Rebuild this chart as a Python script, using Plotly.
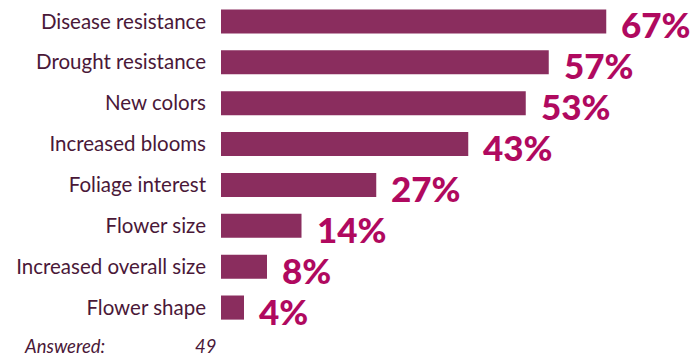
import plotly.graph_objects as go

# Survey: desired plant traits (share of respondents)
categories = [
    "Disease resistance",
    "Drought resistance",
    "New colors",
    "Increased blooms",
    "Foliage interest",
    "Flower size",
    "Increased overall size",
    "Flower shape",
]
percent = [67, 57, 53, 43, 27, 14, 8, 4]
answered = 49

bar_color = "#8a2d5e"
value_color = "#b0095f"
label_color = "#4a1838"

fig = go.Figure(
    go.Bar(
        x=percent,
        y=categories,
        orientation="h",
        marker=dict(color=bar_color, line=dict(width=0)),
        hoverinfo="skip",
    )
)

# heavy value labels just past the end of each bar
for cat, val in zip(categories, percent):
    fig.add_annotation(
        x=val, y=cat, xref="x", yref="y",
        text=f"{val}%",
        showarrow=False, xanchor="left", yanchor="middle",
        xshift=13, yshift=-3,
        font=dict(family="Lato", size=35, color=value_color, weight=900),
    )

# respondent count footer
fig.add_annotation(
    x=-0.43, y=-0.084, xref="paper", yref="paper",
    text="<i>Answered:</i>", showarrow=False,
    xanchor="left", yanchor="bottom", yshift=-3, borderpad=0,
    font=dict(family="Lato", size=18.5, color=label_color),
)
fig.add_annotation(
    x=-0.0087, y=-0.084, xref="paper", yref="paper",
    text=f"<i>{answered}</i>", showarrow=False,
    xanchor="right", yanchor="bottom", yshift=-3, borderpad=0,
    font=dict(family="Lato", size=18.5, color=label_color),
)

fig.update_layout(
    width=695, height=356,
    margin=dict(l=221, r=14, t=1, b=28),
    paper_bgcolor="white", plot_bgcolor="white",
    bargap=0.41,
    showlegend=False,
    xaxis=dict(range=[0, 80], visible=False, fixedrange=True),
    yaxis=dict(
        range=[len(categories) - 0.5, -0.5],
        showgrid=False, zeroline=False, showline=False,
        ticks="", ticklabelstandoff=14,
        tickfont=dict(family="Lato", size=20.5, color=label_color),
        fixedrange=True,
    ),
)

fig.write_html("out.html", config={"displayModeBar": False})
